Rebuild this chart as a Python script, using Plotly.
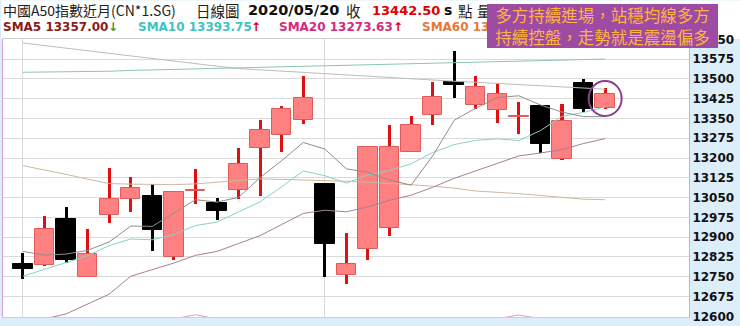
import plotly.graph_objects as go

# ---------------- data ----------------
days = list(range(28))
open_ = [12800, 12795, 12968, 12750, 12985, 13046, 13056, 12825, 13075, 13030,
         13078, 13237, 13288, 13343, 13100, 12755, 12856, 12936, 13224, 13362,
         13490, 13400, 13381, 13355, 13399, 13195, 13486, 13390]
high = [12840, 12980, 13015, 12930, 13162, 13128, 13102, 13075, 13159, 13050,
        13237, 13344, 13396, 13511, 13100, 12915, 13245, 13325, 13358, 13488,
        13605, 13512, 13484, 13413, 13400, 13405, 13500, 13467]
low = [12742, 12790, 12803, 12748, 12952, 12996, 12846, 12815, 13024, 12965,
       13044, 13055, 13221, 13330, 12749, 12724, 12813, 12906, 13222, 13325,
       13428, 13384, 13331, 13290, 13218, 13193, 13374, 13384]
close = [12780, 12930, 12812, 12835, 13046, 13087, 12927, 13070, 13080, 13000,
         13177, 13305, 13386, 13428, 12874, 12800, 13242, 13242, 13325, 13430,
         13475, 13471, 13444, 13358, 13255, 13340, 13386, 13442.5]

sma5 = [12846, 12832, 12836, 12850, 12882, 12942, 12941, 12993, 13042, 13033,
        13051, 13126, 13190, 13259, 13234, 13159, 13146, 13117, 13097, 13208,
        13343, 13389, 13429, 13436, 13401, 13374, 13357, 13357]
sma10 = [12752, 12778, 12805, 12830, 12868, 12893, 12890, 12910, 12944, 12957,
         12996, 13034, 13091, 13151, 13133, 13105, 13136, 13153, 13178, 13221,
         13251, 13267, 13273, 13266, 13304, 13358, 13373, 13393.75]
sma20 = [12560, 12590, 12609, 12646, 12684, 12752, 12777, 12802, 12831, 12846,
         12876, 12906, 12948, 12990, 13002, 12996, 13015, 13040, 13059, 13089,
         13123, 13151, 13182, 13208, 13219, 13232, 13255, 13273.63]
sma60 = [13171, 13155, 13138, 13120, 13103, 13101, 13099, 13099, 13102, 13109,
         13115, 13121, 13119, 13117, 13115, 13112, 13108, 13104, 13099, 13093,
         13086, 13075, 13071, 13065, 13058, 13050, 13044, 13042]
ma_long_a = [13636, 13626, 13616, 13606, 13597, 13587, 13577, 13567, 13557, 13548,
             13539, 13534, 13529, 13524, 13519, 13515, 13510, 13505, 13500, 13495,
             13491, 13487, 13483, 13479, 13475, 13470, 13466, 13461]
ma_long_b = [13525, 13526, 13526, 13527, 13529, 13532, 13534, 13537, 13538, 13540,
             13541, 13543, 13545, 13547, 13549, 13551, 13553, 13555, 13557, 13559,
             13561, 13563, 13565, 13567, 13569, 13571, 13573, 13575]
ma_low = [12580, 12580, 12582, 12584, 12585, 12586, 12587, 12590, 12606, 12590,
          12588, 12587, 12586, 12586, 12586, 12587, 12587, 12588, 12588, 12589,
          12589, 12590, 12591, 12605, 12591, 12590, 12590, 12590]

y_ticks = [12600, 12675, 12750, 12825, 12900, 12975, 13050, 13125, 13200,
           13275, 13350, 13425, 13500, 13575, 13650]
x_grid = [0, 14]

# ---------------- geometry helpers ----------------
W, H = 740, 326
ML, MR, MT, MB = 2, 51, 39, 6
PW, PH = W - ML - MR, H - MT - MB


def px(x):
    return (x - ML) / PW


def py(y):
    return (H - MB - y) / PH


RED_FILL = "#FF8080"
RED_EDGE = "#E25A5A"
RED_WICK = "#DD1111"

up = [i for i in days if close[i] >= open_[i]]
dn = [i for i in days if close[i] < open_[i]]

fig = go.Figure()

# wicks
for idx, col in ((up, RED_WICK), (dn, "#000000")):
    fig.add_trace(go.Bar(
        x=[days[i] for i in idx],
        base=[low[i] for i in idx],
        y=[high[i] - low[i] for i in idx],
        width=0.14, marker=dict(color=col, line=dict(width=0)),
        hoverinfo="skip"))

# bodies
fig.add_trace(go.Bar(
    x=[days[i] for i in up],
    base=[min(open_[i], close[i]) for i in up],
    y=[abs(close[i] - open_[i]) for i in up],
    width=0.9, marker=dict(color=RED_FILL, line=dict(color=RED_EDGE, width=1)),
    hoverinfo="skip"))
fig.add_trace(go.Bar(
    x=[days[i] for i in dn],
    base=[min(open_[i], close[i]) for i in dn],
    y=[abs(close[i] - open_[i]) for i in dn],
    width=0.9, marker=dict(color="#000000", line=dict(color="#000000", width=1)),
    hoverinfo="skip"))

# moving-average lines
for series, col in ((ma_long_a, "#BDBDBD"), (ma_long_b, "#8CC4B6"),
                    (sma60, "#CDB89C"), (sma20, "#A97E98"),
                    (sma10, "#86D2C8"), (sma5, "#8E8E8E"), (ma_low, "#D9A0C8")):
    fig.add_trace(go.Scatter(x=days, y=series, mode="lines",
                             line=dict(color=col, width=1), hoverinfo="skip"))

ann = []


def txt(t, x, y, size, color="#222222", family="Noto Sans CJK TC", weight="normal"):
    ann.append(dict(text=t, x=px(x), y=py(y), xref="paper", yref="paper",
                    xanchor="left", yanchor="middle", showarrow=False,
                    borderpad=0,
                    font=dict(size=size, color=color, family=family, weight=weight)))


# header row 1
txt("中國A50指數近月(CN*1.SG)", 1, 10, 14, "#222222")
txt("日線圖", 194, 10, 14.5, "#222222")
txt("2020/05/20", 246, 10, 14.5, "#111111", "DejaVu Sans", "bold")
txt("收", 344, 10, 14.5, "#222222")
txt("13442.50", 371, 10, 13, "#E00000", "DejaVu Sans", "bold")
txt("s", 443, 10, 14, "#111111", "DejaVu Sans", "bold")
txt("點", 457, 10, 14.5, "#222222")
txt("量", 476, 10, 14.5, "#222222")
# header row 2
txt("SMA5 13357.00", 1, 27, 12, "#8B1A1A", "DejaVu Sans", "bold")
txt("↓", 106, 27, 12, "#2E9E2E", "DejaVu Sans", "bold")
txt("SMA10 13393.75", 136, 27, 12, "#3EC3C3", "DejaVu Sans", "bold")
txt("↑", 249, 27, 12, "#E00000", "DejaVu Sans", "bold")
txt("SMA20 13273.63", 277, 27, 12, "#D42A7E", "DejaVu Sans", "bold")
txt("↑", 392, 27, 12, "#E00000", "DejaVu Sans", "bold")
txt("SMA60 13", 421, 27, 12, "#E8783A", "DejaVu Sans", "bold")

# purple comment box
ann.append(dict(text="多方持續進場，站穩均線多方<br>持續控盤，走勢就是震盪偏多",
                x=px(487), y=py(4), xref="paper", yref="paper",
                xanchor="left", yanchor="top", showarrow=False,
                width=231, height=44, align="center", valign="middle",
                bgcolor="#9D4BA3", borderpad=0, borderwidth=0,
                font=dict(size=16.5, color="#FFB43C", family="Noto Sans CJK TC")))

shapes = [
    # white header
    dict(type="rect", xref="paper", yref="paper", x0=px(0), x1=px(W), y0=py(MT), y1=py(0),
         fillcolor="white", line=dict(width=0), layer="below"),
    # highlight circle around the last candle
    dict(type="circle", xref="x", yref="y", xsizemode="pixel", ysizemode="pixel",
         xanchor=days[-1], yanchor=(high[-1] + low[-1]) / 2,
         x0=-16.5, x1=16.5, y0=-17.5, y1=17.5,
         line=dict(color="#8E3D91", width=2)),
]

fig.update_layout(
    width=W, height=H,
    margin=dict(l=ML, r=MR, t=MT, b=MB),
    paper_bgcolor="#DCEEF9", plot_bgcolor="white",
    barmode="overlay", bargap=0, showlegend=False, hovermode=False,
    annotations=ann, shapes=shapes,
    xaxis=dict(range=[-0.926, 30.89], tickvals=x_grid, showticklabels=False,
               showgrid=True, gridcolor="#DADADA", gridwidth=1, zeroline=False,
               showline=True, linecolor="#CFCFCF", linewidth=1, mirror=True,
               fixedrange=True),
    yaxis=dict(range=[12597.4, 13651.15], side="right", tickvals=y_ticks,
               ticktext=[str(v) for v in y_ticks], ticks="",
               ticklabeloverflow="allow",
               tickfont=dict(family="DejaVu Sans", size=12, color="#111111", weight="bold"),
               showgrid=True, gridcolor="#DADADA", gridwidth=1, zeroline=False,
               showline=True, linecolor="#D6A6D6", linewidth=1, mirror=True,
               fixedrange=True),
)

fig.write_html("out.html")
